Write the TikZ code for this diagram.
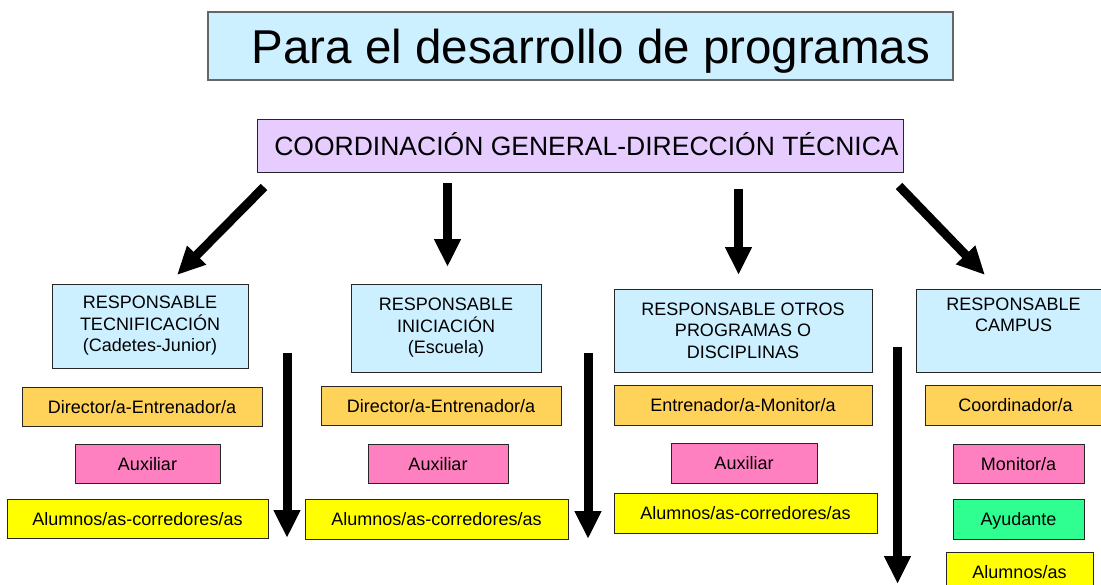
\documentclass[tikz,border=0pt]{standalone}
\usepackage{fontspec}
\setmainfont{Liberation Sans}
\usetikzlibrary{arrows.meta}
\definecolor{cblue}{HTML}{CCF0FF}
\definecolor{clav}{HTML}{E6CCFF}
\definecolor{corange}{HTML}{FFD25A}
\definecolor{cpink}{HTML}{FF80C0}
\definecolor{cgreen}{HTML}{2EFF90}
\definecolor{cyellow}{HTML}{FFFF00}
\newcommand{\bx}[7]{%
  \node[#6, minimum width={(#4)-(#2)}, minimum height={(#5)-(#3)}] (#1) at ({((#2)+(#4))/2},{((#3)+(#5))/2}) {#7};}
\begin{document}
\begin{tikzpicture}[x=1pt,y=-1pt,
  box/.style={draw=black!85, line width=1pt, inner sep=0pt, align=center,
    font=\fontsize{18}{21.5}\selectfont},
  single/.style={box, text height=13pt, text depth=0pt},
  resp/.style={box, fill=cblue},
  dir/.style={single, fill=corange},
  aux/.style={single, fill=cpink},
  alu/.style={single, fill=cyellow},
  ayu/.style={single, fill=cgreen},
  titlebox/.style={draw=black!60, line width=1.3pt, fill=cblue, inner sep=0pt,
    text height=34pt, text depth=0pt,
    font=\fontsize{47.5}{50}\selectfont},
  coordbox/.style={draw=black!85, line width=1pt, fill=clav, inner sep=0pt,
    text height=19pt, text depth=0pt,
    font=\fontsize{26.5}{30}\selectfont},
  blockarrow/.style={line width=9pt, -{Triangle[length=28pt,width=25pt]}}]
\useasboundingbox (0,0) rectangle (1101,584);
\fill[white] (0,0) rectangle (1101,584);

\bx{title}{208}{12}{953}{80}{titlebox}{\hspace*{21pt}Para el desarrollo de programas}
\bx{coord}{257}{119}{903}{172}{coordbox}{\hspace*{13pt}COORDINACIÓN GENERAL-DIRECCIÓN TÉCNICA}

% column 1
\bx{r1}{52}{284}{248}{368}{resp}{RESPONSABLE\\TECNIFICACIÓN\\(Cadetes-Junior)}
\bx{d1}{22}{387}{262}{426}{dir}{Director/a-Entrenador/a}
\bx{x1}{75}{444}{220}{483}{aux}{Auxiliar}
\bx{a1}{7}{499}{268}{538}{alu}{Alumnos/as-corredores/as}
% column 2
\bx{r2}{351}{284}{541}{372}{resp}{RESPONSABLE\\INICIACIÓN\\(Escuela)}
\bx{d2}{321}{386}{561}{425}{dir}{Director/a-Entrenador/a}
\bx{x2}{368}{444}{508}{483}{aux}{Auxiliar}
\bx{a2}{305}{499}{568}{539}{alu}{Alumnos/as-corredores/as}
% column 3
\bx{r3}{614}{289}{872}{372}{resp}{RESPONSABLE OTROS\\PROGRAMAS O\\DISCIPLINAS}
\bx{d3}{614}{385}{872}{425}{dir}{Entrenador/a-Monitor/a}
\bx{x3}{671}{443}{817}{483}{aux}{Auxiliar}
\bx{a3}{614}{493}{877}{533}{alu}{Alumnos/as-corredores/as}
% column 4
\bx{r4}{916}{289}{1111}{372}{resp}{RESPONSABLE\\CAMPUS\\[4pt]\strut}
\bx{d4}{925}{385}{1106}{425}{dir}{Coordinador/a}
\bx{x4}{953}{444}{1084}{483}{aux}{Monitor/a}
\bx{y4}{953}{499}{1084}{539}{ayu}{Ayudante}
\bx{a4}{946}{552}{1093}{591}{alu}{Alumnos/as}

% arrow end points
\coordinate (s1) at (264,187); \coordinate (e1) at (177,275);
\coordinate (s2) at (447.5,183); \coordinate (e2) at (447.5,267);
\coordinate (s3) at (738.5,189); \coordinate (e3) at (738.5,275);
\coordinate (s4) at (899,186); \coordinate (e4) at (985,275);
\coordinate (v1s) at (287,353); \coordinate (v1e) at (287,538);
\coordinate (v2s) at (588,353); \coordinate (v2e) at (588,539);
\coordinate (v3s) at (897.5,347); \coordinate (v3e) at (897.5,584);

\draw[blockarrow] (s1) -- (e1);
\draw[blockarrow] (s2) -- (e2);
\draw[blockarrow] (s3) -- (e3);
\draw[blockarrow] (s4) -- (e4);
\draw[blockarrow] (v1s) -- (v1e);
\draw[blockarrow] (v2s) -- (v2e);
\draw[blockarrow] (v3s) -- (v3e);
\end{tikzpicture}
\end{document}
